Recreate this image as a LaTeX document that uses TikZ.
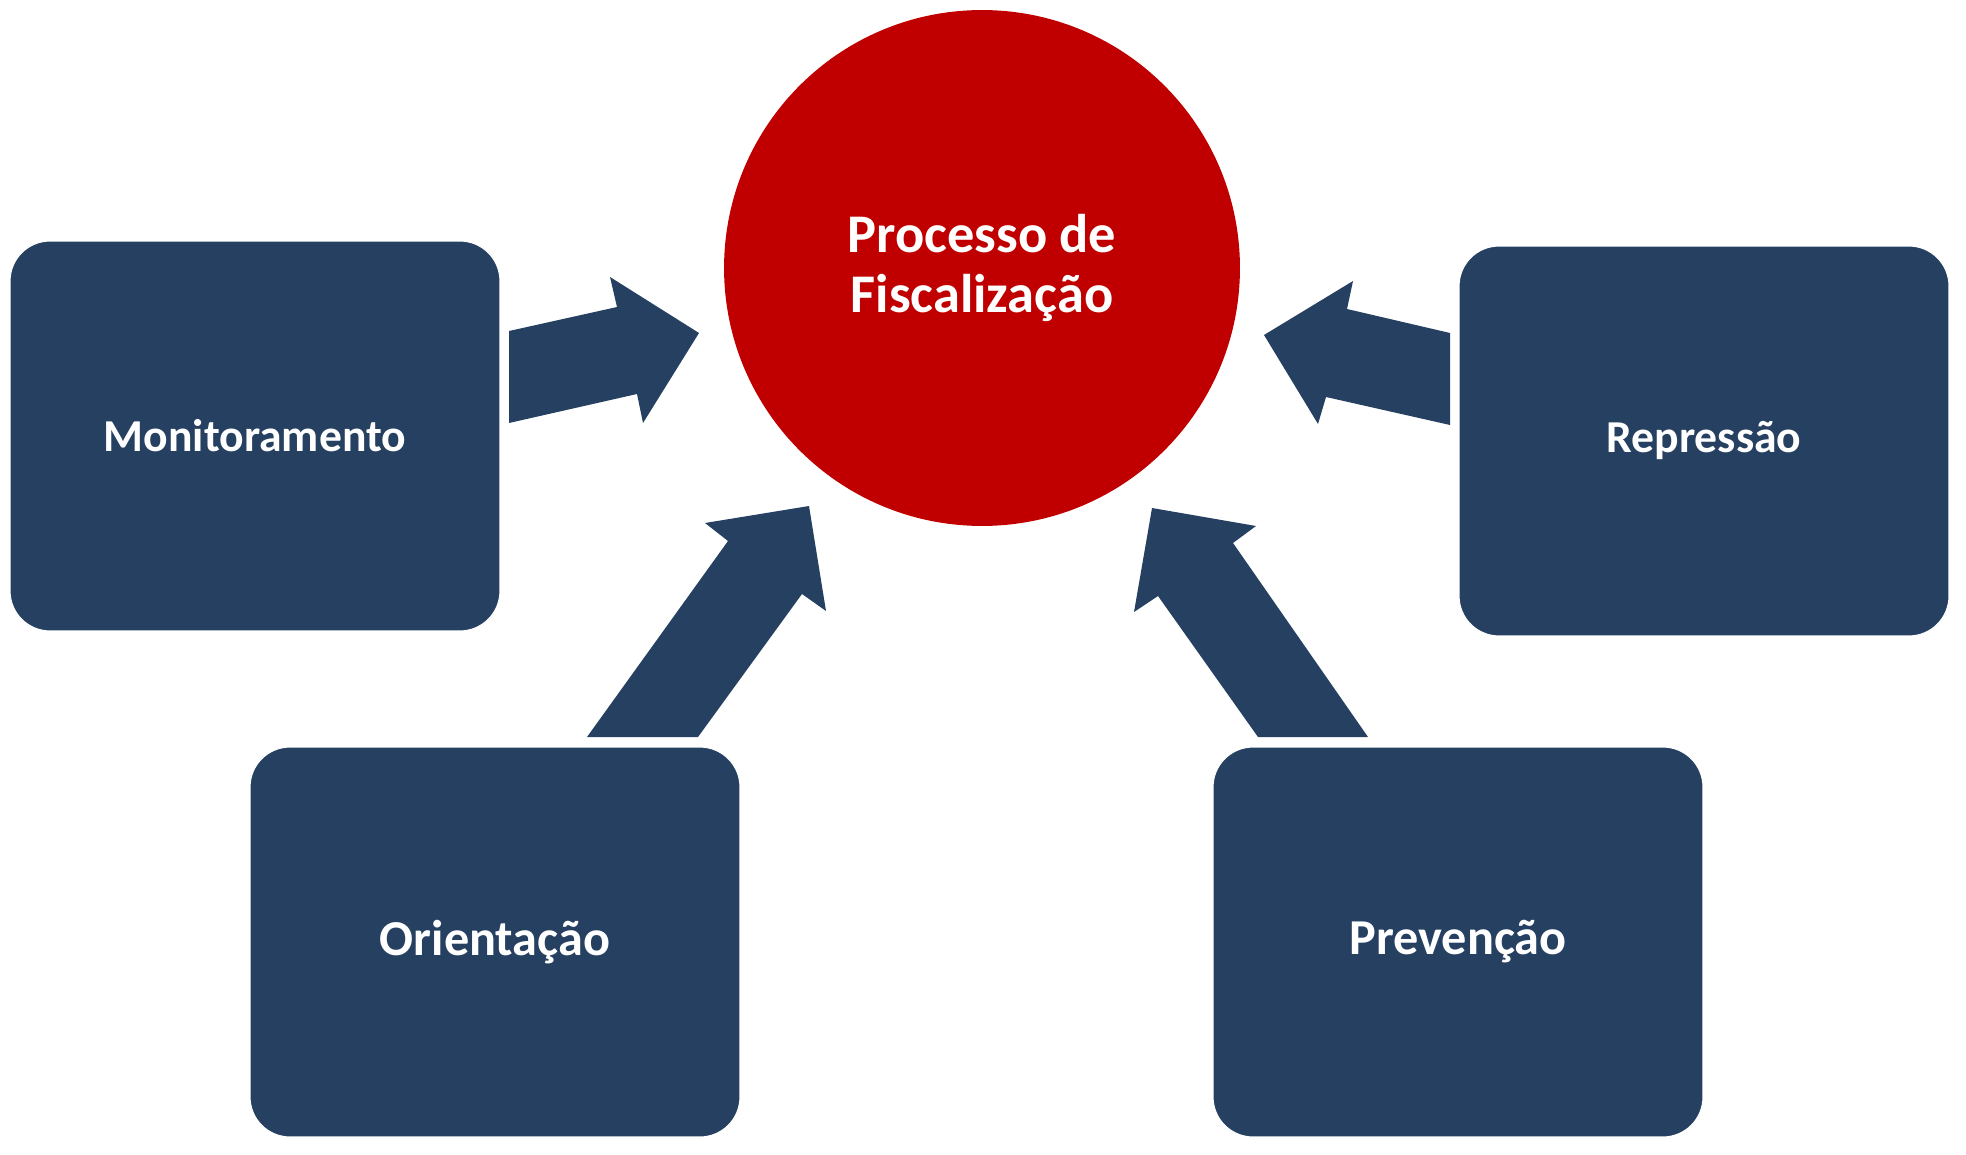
\documentclass[tikz,border=0pt]{standalone}
\usepackage{fontspec}
\setmainfont{Carlito}
\usetikzlibrary{positioning}

\definecolor{boxblue}{RGB}{38,64,97}
\definecolor{fiscred}{RGB}{192,0,0}

\begin{document}
\begin{tikzpicture}[
        x=0.02cm, y=-0.02cm,
        topic/.style={draw=white, line width=0.6pt, fill=boxblue, rounded corners=0.8cm, minimum width=9.8cm, minimum height=7.8cm, text=white, font=\fontsize{26}{30}\selectfont\bfseries},
        bigtopic/.style={topic, font=\fontsize{28.6}{32}\selectfont\bfseries},
        core/.style={circle, fill=fiscred, minimum size=10.32cm, text=white, align=center, font=\fontsize{31}{34.5}\selectfont\bfseries},
        blockarrow/.style={fill=boxblue}
    ]
    \useasboundingbox (0,0) rectangle (1966,1155);

    % Nodes
    \node [core] (fisc) at (982,268) {Processo de\\Fiscalização};
    \node [topic] (monit) at (255,436) {Monitoramento};
    \node [topic] (repr) at (1704,441) {Repressão};
    \node [bigtopic] (orient) at (495,942) {Orientação};
    \node [bigtopic] (prev) at (1458,942) {Prevenção};

    % Arrows
    \fill[blockarrow] (509,331) -- (617,307) -- (610,277) -- (699,333) -- (643,423) -- (637,394) -- (509,423) -- cycle;
    \fill[blockarrow] (587,737) -- (728,541) -- (705,523) -- (809,506) -- (826,611) -- (802,594) -- (698,737) -- cycle;
    \fill[blockarrow] (1368,737) -- (1233,543) -- (1256,526) -- (1152,508) -- (1134,612) -- (1158,596) -- (1258,737) -- cycle;
    \fill[blockarrow] (1450,333) -- (1347,309) -- (1353,281) -- (1264,335) -- (1318,424) -- (1326,397) -- (1450,425) -- cycle;

\end{tikzpicture}
\end{document}
